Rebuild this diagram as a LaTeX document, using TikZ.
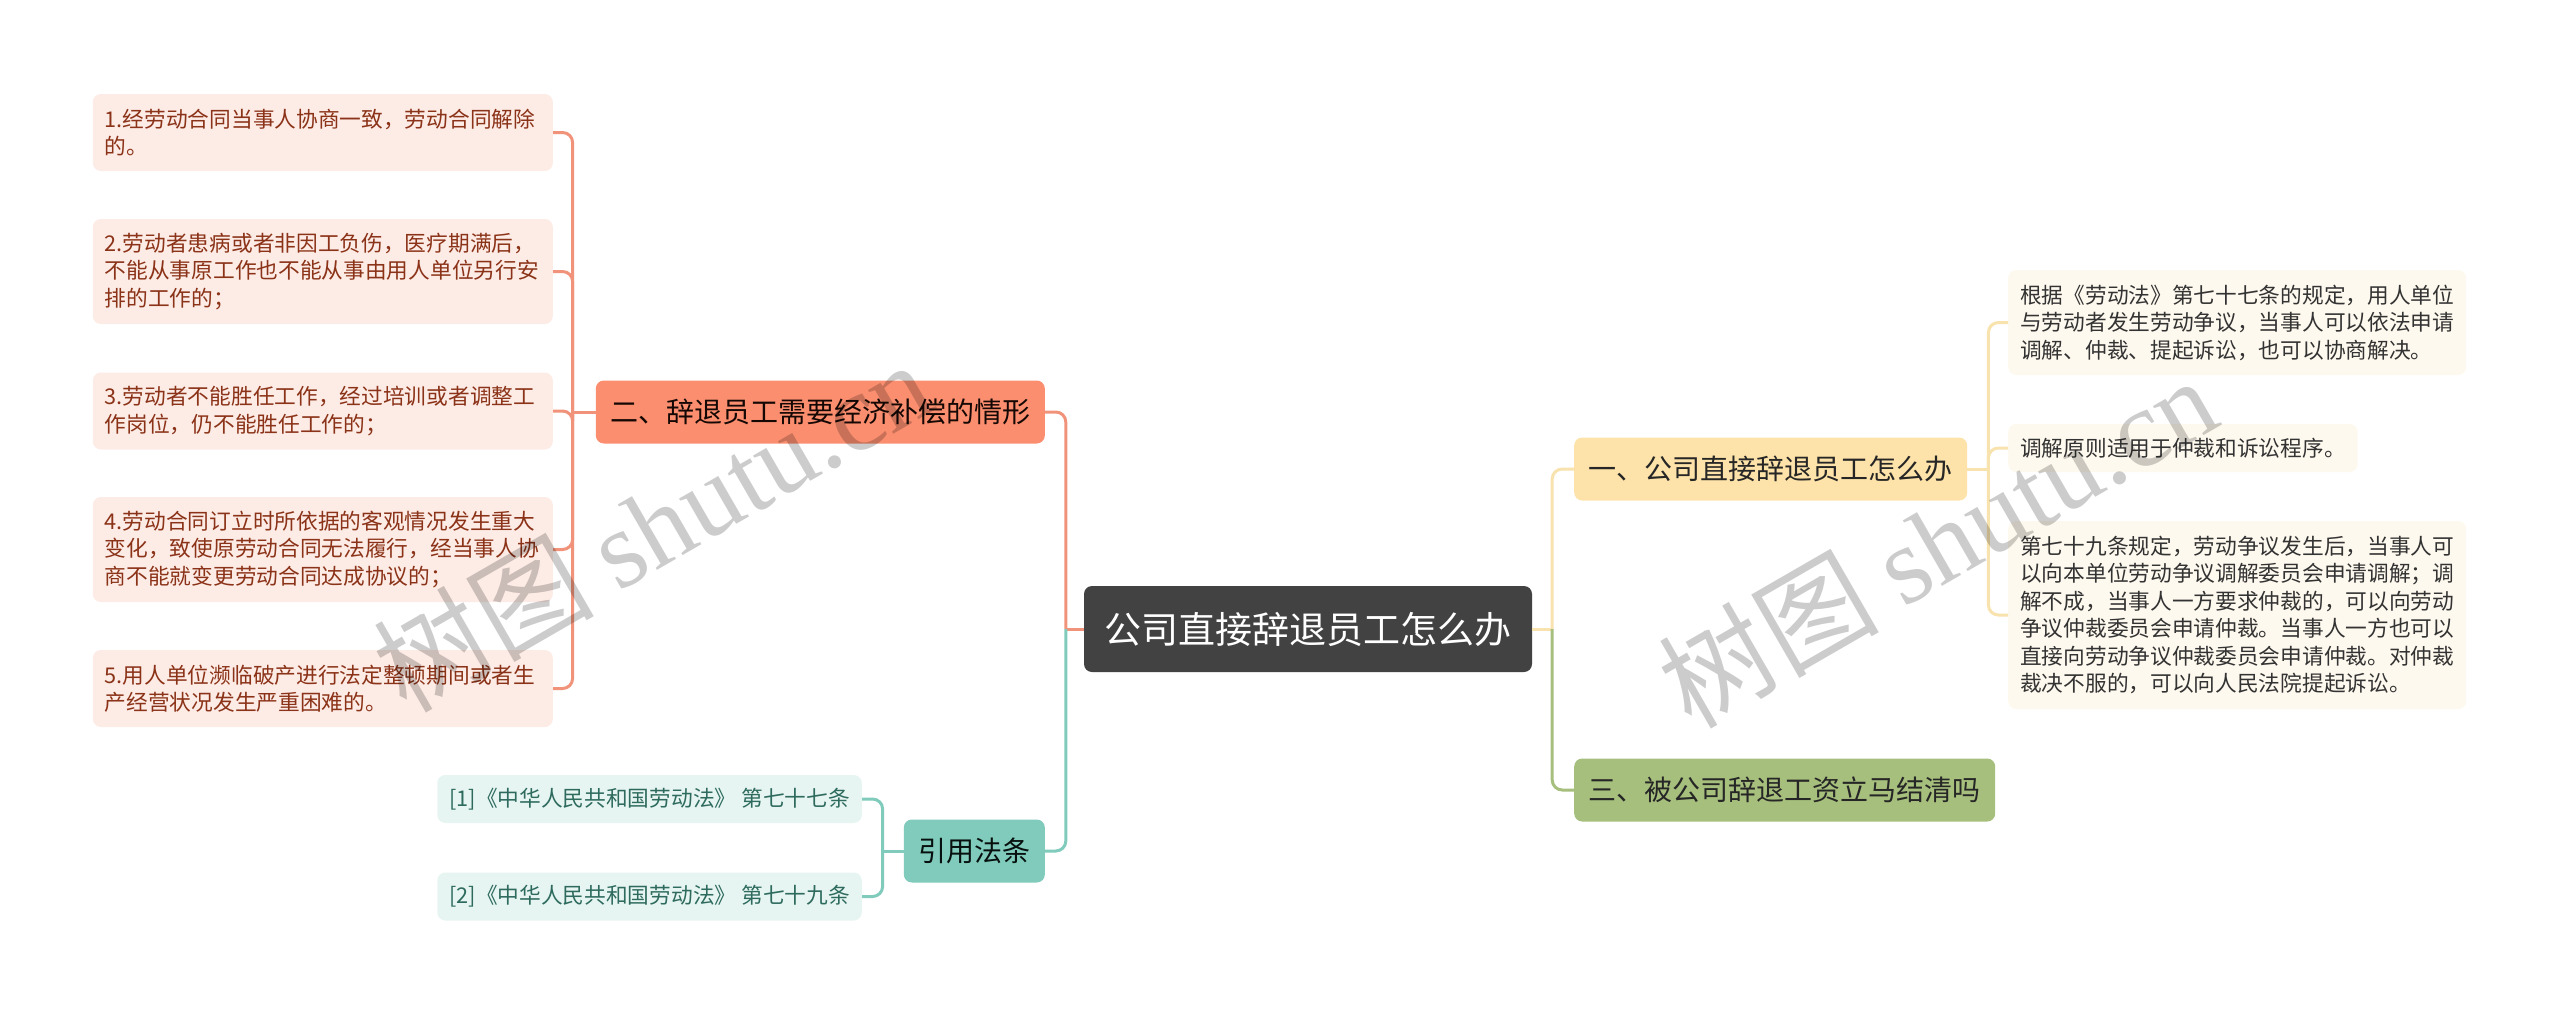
\documentclass[tikz,border=0pt]{standalone}
\usepackage{fontspec}
\setmainfont{Noto Sans CJK SC}
\newfontfamily\wmfont{Liberation Serif}
\definecolor{rootbg}{HTML}{424242}
\definecolor{erbg}{HTML}{FA8E6F}
\definecolor{erline}{HTML}{F0937A}
\definecolor{erleaf}{HTML}{FDEBE5}
\definecolor{ertext}{HTML}{8B3318}
\definecolor{yinbg}{HTML}{80CBBB}
\definecolor{yinleaf}{HTML}{E6F5F1}
\definecolor{yintext}{HTML}{2E6B5E}
\definecolor{yibg}{HTML}{FDE3A9}
\definecolor{yiline}{HTML}{F8E2AE}
\definecolor{yileaf}{HTML}{FEF9EE}
\definecolor{sanbg}{HTML}{A6BF7D}
\tikzset{
  box/.style={rounded corners=8pt, inner ysep=4pt, align=left},
  leaftext/.style={font=\fontsize{21.7}{27.5}\selectfont, inner xsep=12pt},
  topic/.style={box, inner xsep=14.5pt, minimum height=63pt, font=\fontsize{28}{34}\selectfont},
  leafer/.style={box, leaftext, fill=erleaf, text=ertext, text width=436pt, anchor=east},
  leafyin/.style={box, leaftext, fill=yinleaf, text=yintext, minimum height=48pt, anchor=east},
  leafyi/.style={box, leaftext, fill=yileaf, text=black!80, anchor=west},
  link/.style={line width=3pt, rounded corners=10pt},
  wm/.style={text=black, opacity=0.2, font=\fontsize{110}{120}\selectfont, rotate=30}
}
\begin{document}
\begin{tikzpicture}[x=1pt, y=-1pt]
  \useasboundingbox (0,0) rectangle (2560,1015);
  \draw
    (1308,629) node[box, fill=rootbg, text=white, inner xsep=20.5pt, minimum height=86pt,
      font=\fontsize{37}{44}\selectfont] (root){公司直接辞退员工怎么办}
    (1045,412) node[topic, fill=erbg, text=black!85!ertext, anchor=east] (er){二、辞退员工需要经济补偿的情形}
    (1045,851) node[topic, fill=yinbg, text=black!85!yintext, anchor=east] (yin){引用法条}
    (1574,469) node[topic, fill=yibg, text=black!85, anchor=west] (yi){一、公司直接辞退员工怎么办}
    (1574,790) node[topic, fill=sanbg, text=black!85, anchor=west] (san){三、被公司辞退工资立马结清吗}
    (553,132.5) node[leafer, minimum height=77pt] (er1){1.经劳动合同当事人协商一致，劳动合同解除\\的。}
    (553,271.5) node[leafer, minimum height=105pt] (er2){2.劳动者患病或者非因工负伤，医疗期满后，\\不能从事原工作也不能从事由用人单位另行安\\排的工作的；}
    (553,411) node[leafer, minimum height=77pt] (er3){3.劳动者不能胜任工作，经过培训或者调整工\\作岗位，仍不能胜任工作的；}
    (553,549.5) node[leafer, minimum height=105pt] (er4){4.劳动合同订立时所依据的客观情况发生重大\\变化，致使原劳动合同无法履行，经当事人协\\商不能就变更劳动合同达成协议的；}
    (553,688.5) node[leafer, minimum height=77pt] (er5){5.用人单位濒临破产进行法定整顿期间或者生\\产经营状况发生严重困难的。}
    (862,799) node[leafyin] (yin1){[1]《中华人民共和国劳动法》 第七十七条}
    (862,896.5) node[leafyin] (yin2){[2]《中华人民共和国劳动法》 第七十九条}
    (2008,322.5) node[leafyi, minimum height=105pt] (yi1){根据《劳动法》第七十七条的规定，用人单位\\与劳动者发生劳动争议，当事人可以依法申请\\调解、仲裁、提起诉讼，也可以协商解决。}
    (2008,448) node[leafyi, minimum height=48pt] (yi2){调解原则适用于仲裁和诉讼程序。}
    (2008,615) node[leafyi, minimum height=188pt] (yi3){第七十九条规定，劳动争议发生后，当事人可\\以向本单位劳动争议调解委员会申请调解；调\\解不成，当事人一方要求仲裁的，可以向劳动\\争议仲裁委员会申请仲裁。当事人一方也可以\\直接向劳动争议仲裁委员会申请仲裁。对仲裁\\裁决不服的，可以向人民法院提起诉讼。};
  \begin{scope}[link]
    \draw[erline] (root.west) -- ++(-18,0) coordinate (rootl);
    \draw[erline] (rootl) |- (er.east);
    \draw[yinbg] (rootl) |- (yin.east);
    \draw[yiline] (root.east) -- ++(20,0) coordinate (rootr);
    \draw[yiline] (rootr) |- (yi.west);
    \draw[sanbg] (rootr) |- (san.west);
    \draw[erline] (er.west) -- ++(-23,0) coordinate (erj);
    \draw[erline] (erj) |- (er1.east);
    \draw[erline] (erj) |- (er2.east);
    \draw[erline] (erj) |- (er3.east);
    \draw[erline] (erj) |- (er4.east);
    \draw[erline] (erj) |- (er5.east);
    \draw[yinbg] (yin.west) -- ++(-21,0) coordinate (yinj);
    \draw[yinbg] (yinj) |- (yin1.east);
    \draw[yinbg] (yinj) |- (yin2.east);
    \draw[yiline] (yi.east) -- ++(21,0) coordinate (yij);
    \draw[yiline] (yij) |- (yi1.west);
    \draw[yiline] (yij) |- (yi2.west);
    \draw[yiline] (yij) |- (yi3.west);
  \end{scope}
  \node[wm] (wm1) at (652,525) {树图 {\wmfont shutu.cn}};
  \node[wm] (wm2) at (1937,541) {树图 {\wmfont shutu.cn}};
\end{tikzpicture}
\end{document}
